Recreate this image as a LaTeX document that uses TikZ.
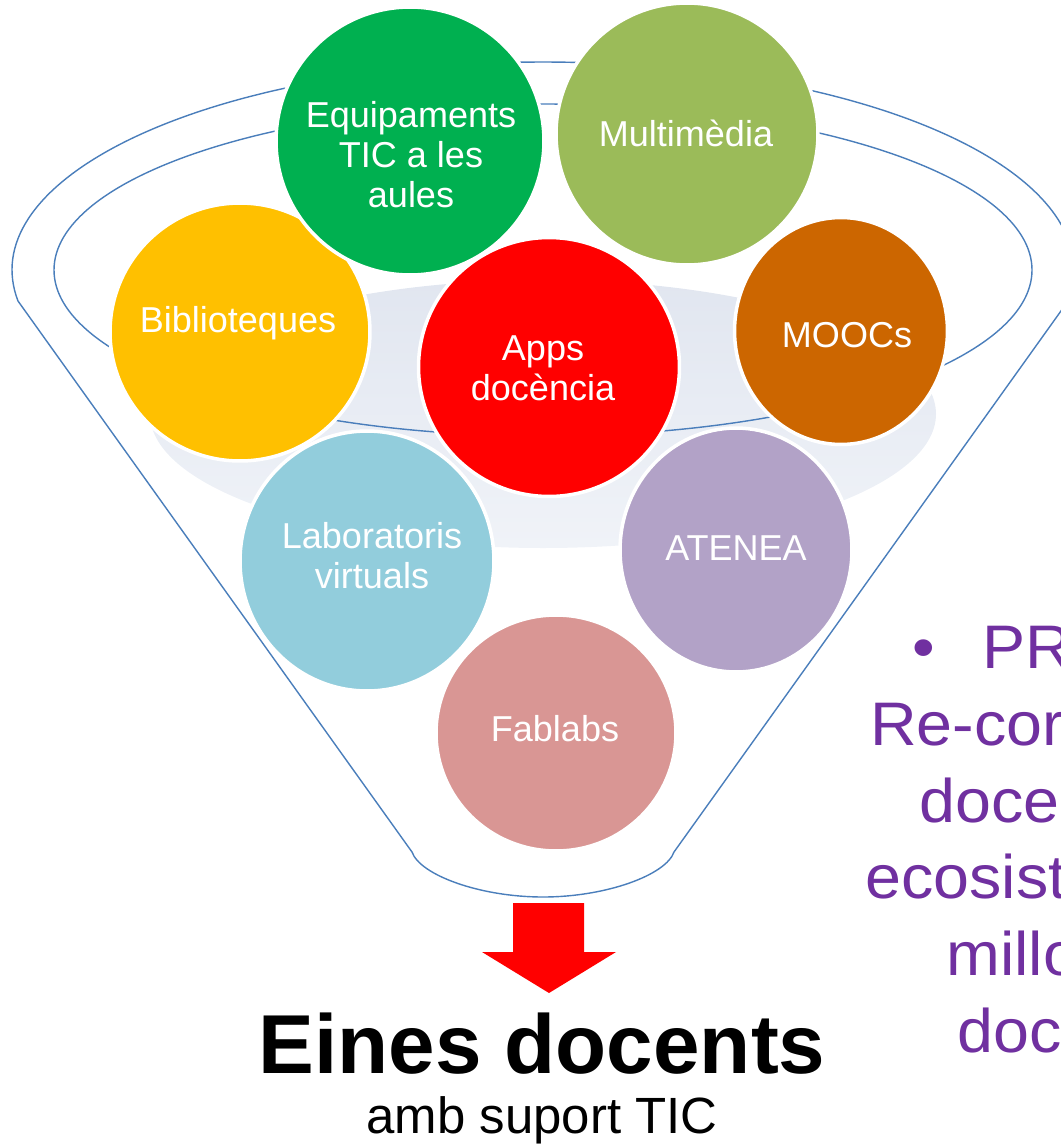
\documentclass[tikz,border=0pt]{standalone}
\usepackage{fontspec}
\setmainfont{Liberation Sans}
\usetikzlibrary{shapes.geometric}
\definecolor{fl}{RGB}{74, 126, 187}
\definecolor{gi}{RGB}{225, 230, 240}
\definecolor{go}{RGB}{240, 243, 248}
\definecolor{gr}{RGB}{0, 176, 80}
\definecolor{ol}{RGB}{155, 187, 89}
\definecolor{ye}{RGB}{255, 192, 0}
\definecolor{re}{RGB}{255, 0, 0}
\definecolor{br}{RGB}{204, 102, 0}
\definecolor{lb}{RGB}{146, 205, 220}
\definecolor{la}{RGB}{178, 162, 199}
\definecolor{pk}{RGB}{217, 150, 148}
\definecolor{pu}{RGB}{112, 48, 160}
\tikzset{
  bubble/.style={ellipse, draw=white, line width=2pt, inner sep=0pt, outer sep=0pt},
  bubbletxt/.style={text=white, align=center, inner sep=0pt,
    font=\fontsize{20.5}{22.7}\selectfont},
  proptxt/.style={text=pu, anchor=base west, inner sep=0pt, xscale=1.05, transform shape,
    font=\fontsize{35}{42}\selectfont},
  rim/.style={draw=fl, line width=0.8pt}
}

\begin{document}
\begin{tikzpicture}[x=0.02cm, y=-0.02cm]
  \clip (0,0) rectangle (1061,1146);
  % funnel
  \draw[rim] (18,301) arc[start angle=171.43, end angle=368.57, x radius=531, y radius=208]
    -- (674,852) .. controls (666,875) and (606,897) .. (543,897)
    .. controls (480,897) and (420,875) .. (412,852) -- cycle;
  \shade[top color=gi, bottom color=go] (543,414) ellipse [x radius=393, y radius=134];
  \draw[rim] (543,270) ellipse [x radius=489, y radius=166];

  % bubbles
  \node[bubble, fill=ye, minimum width=5.2cm,  minimum height=5.16cm] (bib) at (240,332) {};
  \node[bubble, fill=gr, minimum width=5.36cm, minimum height=5.36cm] (equ) at (410,141) {};
  \node[bubble, fill=ol, minimum width=5.24cm, minimum height=5.24cm] (mul) at (687,134) {};
  \node[bubble, fill=re, minimum width=5.22cm, minimum height=5.18cm] (app) at (549,367) {};
  \node[bubble, fill=br, minimum width=4.26cm, minimum height=4.54cm] (moo) at (841,331) {};
  \node[bubble, fill=lb, minimum width=5.08cm, minimum height=5.2cm]  (lab) at (367,561) {};
  \node[bubble, fill=la, minimum width=4.64cm, minimum height=4.88cm] (ate) at (736,550) {};
  \node[bubble, fill=pk, minimum width=4.8cm,  minimum height=4.72cm] (fab) at (556,733) {};

  \node[bubbletxt] (bib-t) at (238,323) {Biblioteques};
  \node[bubbletxt] (equ-t) at (411,155) {Equipaments\\TIC a les\\aules};
  \node[bubbletxt] (mul-t) at (686,133) {Multimèdia};
  \node[bubbletxt] (app-t) at (543,368) {Apps\\docència};
  \node[bubbletxt] (moo-t) at (847,335) {MOOCs};
  \node[bubbletxt] (lab-t) at (372,556) {Laboratoris\\virtuals};
  \node[bubbletxt] (ate-t) at (736,548) {ATENEA};
  \node[bubbletxt] (fab-t) at (555,729) {Fablabs};

  % arrow
  \fill[re] (513,903) -- (584,903) -- (584,952) -- (616,952) -- (549,993)
    -- (482,952) -- (513,952) -- cycle;

  \node[font=\fontsize{47.6}{50}\selectfont\bfseries, inner sep=0pt, anchor=base] (tit) at (542,1073) {Eines docents};
  \node[font=\fontsize{29}{32}\selectfont, inner sep=0pt, anchor=base] (sub) at (542,1133) {amb suport TIC};

  % side text
  \node[proptxt] (bul) at (912,668) {•};
  \node[proptxt] (p1) at (982,668) {PR};
  \node[proptxt] (p2) at (870,745) {Re-cor};
  \node[proptxt] (p3) at (919,822) {doce};
  \node[proptxt] (p4) at (865,898) {ecosist};
  \node[proptxt] (p5) at (946,975) {millo};
  \node[proptxt] (p6) at (957,1052) {doc};
\end{tikzpicture}
\end{document}
